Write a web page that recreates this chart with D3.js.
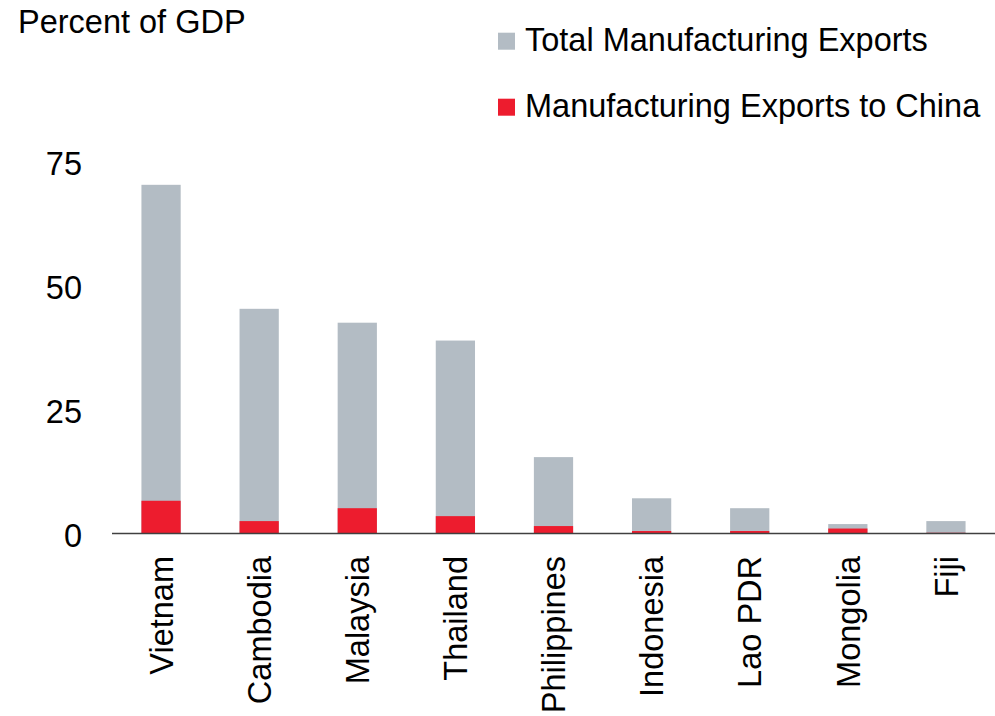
<!DOCTYPE html>
<html>
<head>
<meta charset="utf-8">
<script src="https://cdn.jsdelivr.net/npm/d3@7"></script>
<style>
  body { margin: 0; background: #fff; }
  text { font-family: "Liberation Sans", Arial, sans-serif; fill: #000; }
</style>
</head>
<body>
<div id="chart"></div>
<script>
// Data (percent of GDP)
const countries = ["Vietnam", "Cambodia", "Malaysia", "Thailand", "Philippines", "Indonesia", "Lao PDR", "Mongolia", "Fiji"];
const totalExports = [70.3, 45.3, 42.5, 38.9, 15.4, 7.1, 5.1, 1.9, 2.5];
const chinaExports = [6.6, 2.5, 5.1, 3.5, 1.5, 0.5, 0.5, 1.0, 0.15];
const yTicks = [0, 25, 50, 75];
const seriesNames = ["Total Manufacturing Exports", "Manufacturing Exports to China"];

const W = 995, H = 716;
const grey = "#b3bcc4", red = "#ed1c2e";
const fontSize = 32.5;

const svg = d3.select("#chart")
  .append("svg")
  .attr("width", W)
  .attr("height", H);

const x = d3.scaleBand().domain(countries).range([112, 995]).paddingInner(0.6).paddingOuter(0.3);
const y = d3.scaleLinear().domain([0, 75]).range([533.5, 161.5]);

const rows = countries.map((c, i) => ({ country: c, total: totalExports[i], china: chinaExports[i] }));

// grey bars (total)
svg.selectAll(".bar-total")
  .data(rows)
  .enter()
  .append("rect")
  .attr("class", "bar-total")
  .attr("x", d => x(d.country))
  .attr("y", d => y(d.total))
  .attr("width", x.bandwidth())
  .attr("height", d => y(0) - y(d.total))
  .attr("fill", grey);

// red bars (to China), drawn over the grey
svg.selectAll(".bar-china")
  .data(rows)
  .enter()
  .append("rect")
  .attr("class", "bar-china")
  .attr("x", d => x(d.country))
  .attr("y", d => y(d.china))
  .attr("width", x.bandwidth())
  .attr("height", d => y(0) - y(d.china))
  .attr("fill", red);

// baseline
svg.append("line")
  .attr("x1", 112)
  .attr("x2", W)
  .attr("y1", y(0))
  .attr("y2", y(0))
  .attr("stroke", "#404040")
  .attr("stroke-width", 1.5);

// y tick labels
svg.selectAll(".ytick")
  .data(yTicks)
  .enter()
  .append("text")
  .attr("class", "ytick")
  .attr("x", 82)
  .attr("y", d => y(d) + 13.4)
  .attr("text-anchor", "end")
  .style("font-size", fontSize + "px")
  .text(d => d);

// x labels, rotated
svg.selectAll(".xlabel")
  .data(countries)
  .enter()
  .append("text")
  .attr("class", "xlabel")
  .attr("transform", d => `translate(${x(d) + x.bandwidth() / 2},556) rotate(-90)`)
  .attr("text-anchor", "end")
  .attr("dy", "0.36em")
  .style("font-size", fontSize + "px")
  .text(d => d);

// axis title
svg.append("text")
  .attr("x", 18)
  .attr("y", 32.7)
  .style("font-size", fontSize + "px")
  .text("Percent of GDP");

// legend
const legend = svg.selectAll(".legend")
  .data(seriesNames)
  .enter()
  .append("g")
  .attr("class", "legend")
  .attr("transform", (d, i) => `translate(498,${i === 0 ? 50.7 : 116.7})`);

legend.append("rect")
  .attr("x", 0)
  .attr("y", -18)
  .attr("width", 17)
  .attr("height", 17)
  .attr("fill", (d, i) => i === 0 ? grey : red);

legend.append("text")
  .attr("x", 27)
  .attr("y", 0)
  .style("font-size", fontSize + "px")
  .text(d => d);
</script>
</body>
</html>
